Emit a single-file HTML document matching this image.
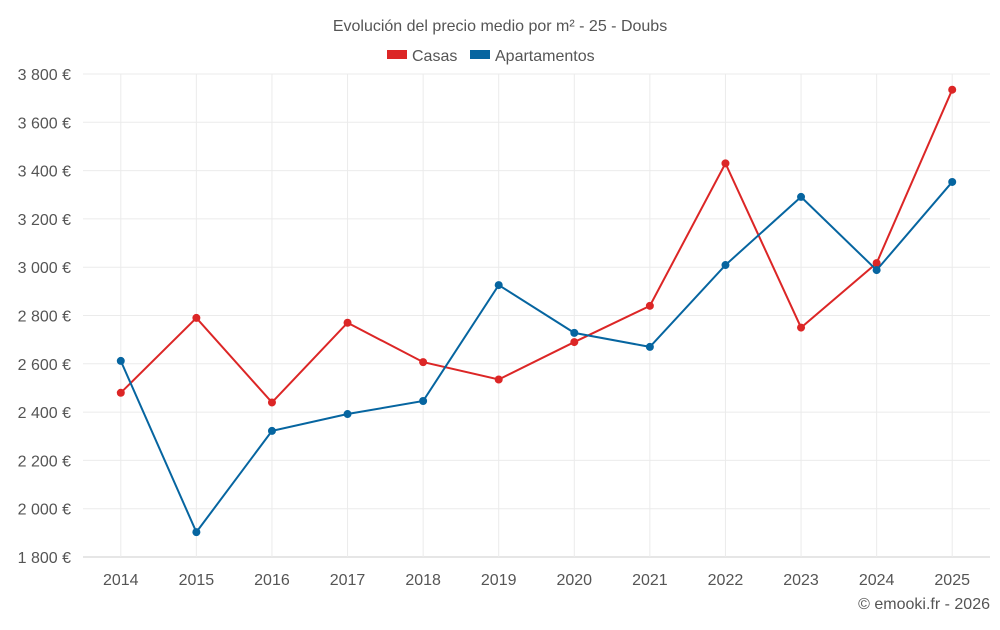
<!DOCTYPE html>
<html><head><meta charset="utf-8"><style>
body{margin:0;background:#fff;font-family:"Liberation Sans",sans-serif;}
svg text{font-family:"Liberation Sans",sans-serif;fill:#555;}
</style></head><body>
<svg id="chart" width="1000" height="625">
<text x="500" y="31" text-anchor="middle" font-size="16">Evolución del precio medio por m² - 25 - Doubs</text>
<g>
<g><rect x="387" y="50" width="20" height="9" fill="#dc2626"></rect><text x="412" y="61" font-size="16">Casas</text></g>
<g><rect x="470" y="50" width="20" height="9" fill="#0665a0"></rect><text x="495" y="61" font-size="16">Apartamentos</text></g>
</g>
<g id="grid"></g><g id="axes"></g><g id="series"></g>
<text x="990" y="609" text-anchor="end" font-size="16">© emooki.fr - 2026</text>
</svg>
<script>
const years=["2014","2015","2016","2017","2018","2019","2020","2021","2022","2023","2024","2025"];
const casas=[2480,2790,2440,2770,2607,2535,2690,2840,3430,2750,3017,3735];
const apartamentos=[2612,1903,2322,2392,2446,2926,2728,2670,3009,3291,2988,3353];
const yTicks=[1800,2000,2200,2400,2600,2800,3000,3200,3400,3600,3800];
const yTickLabels=["1 800 €","2 000 €","2 200 €","2 400 €","2 600 €","2 800 €","3 000 €","3 200 €","3 400 €","3 600 €","3 800 €"];
const L=83,R=990,T=74,B=557,ymin=1800,ymax=3800;
const step=(R-L)/years.length;
const xs=i=>L+step*(i+0.5);
const ys=v=>B-(v-ymin)/(ymax-ymin)*(B-T);
const NS="http://www.w3.org/2000/svg";
function mk(tag,attrs,parent){const e=document.createElementNS(NS,tag);for(const k in attrs)e.setAttribute(k,attrs[k]);parent.appendChild(e);return e;}
const grid=document.getElementById('grid'),axes=document.getElementById('axes'),series=document.getElementById('series');
yTicks.forEach((v,i)=>{
 const l=mk('line',{x1:L,x2:R,y1:ys(v),y2:ys(v),stroke:i==0?'#ccc':'#ebebeb','stroke-width':1},grid);
 
 
 const t=mk('text',{x:L-12,y:ys(v)+6,'text-anchor':'end','font-size':16},axes);
 t.textContent=yTickLabels[i];
 
 
});
years.forEach((y,i)=>{
 const x=xs(i);
 const l=mk('line',{x1:x,x2:x,y1:T,y2:B,stroke:'#ebebeb','stroke-width':1},grid);
 
 
 const t=mk('text',{x:x,y:B+28,'text-anchor':'middle','font-size':16},axes);
 t.textContent=y;
 
 
});
function draw(vals,color,name){
 const p=mk('polyline',{points:vals.map((v,i)=>xs(i)+','+ys(v)).join(' '),fill:'none',stroke:color,'stroke-width':2},series);
 
 
 vals.forEach((v,i)=>{
  const c=mk('circle',{cx:xs(i),cy:ys(v),r:4,fill:color},series);
  
  
 });
}
draw(casas,'#dc2626','casas');
draw(apartamentos,'#0665a0','apartamentos');
</script>
</body></html>
